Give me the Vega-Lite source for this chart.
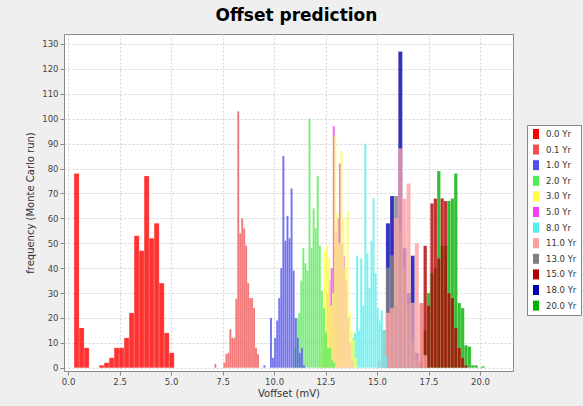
{
  "$schema": "https://vega.github.io/schema/vega-lite/v6.json",
  "width": 449,
  "height": 337,
  "autosize": {"type": "none"},
  "padding": {"left": 64, "top": 34, "right": 70, "bottom": 35},
  "background": "#efefef",
  "title": {"text": "Offset prediction", "font": "DejaVu Sans", "fontSize": 17, "fontWeight": "bold", "color": "#000000", "anchor": "middle", "frame": "group", "offset": 9, "dx": 8},
  "config": {
    "view": {"fill": "#ffffff", "stroke": "#888888", "strokeWidth": 1},
    "axis": {"grid": true, "gridColor": "#d4d4d4", "gridDash": [2, 2], "domain": false, "tickColor": "#888888", "tickSize": 4, "labelFont": "DejaVu Sans", "labelFontSize": 8.5, "labelColor": "#444444", "labelPadding": 2, "titleFont": "DejaVu Sans", "titleFontSize": 10, "titleFontWeight": "normal", "titleColor": "#333333"}
  },
  "data": {"values": [
    {"s": "20.0 Yr", "a": 17.090, "b": 17.255, "n": 5},
    {"s": "20.0 Yr", "a": 17.255, "b": 17.420, "n": 15},
    {"s": "20.0 Yr", "a": 17.420, "b": 17.585, "n": 30},
    {"s": "20.0 Yr", "a": 17.585, "b": 17.750, "n": 38},
    {"s": "20.0 Yr", "a": 17.750, "b": 17.915, "n": 40},
    {"s": "20.0 Yr", "a": 17.915, "b": 18.080, "n": 79},
    {"s": "20.0 Yr", "a": 18.080, "b": 18.245, "n": 49},
    {"s": "20.0 Yr", "a": 18.245, "b": 18.410, "n": 49},
    {"s": "20.0 Yr", "a": 18.410, "b": 18.575, "n": 67},
    {"s": "20.0 Yr", "a": 18.575, "b": 18.740, "n": 68},
    {"s": "20.0 Yr", "a": 18.740, "b": 18.905, "n": 78},
    {"s": "20.0 Yr", "a": 18.905, "b": 19.070, "n": 26},
    {"s": "20.0 Yr", "a": 19.070, "b": 19.235, "n": 24},
    {"s": "20.0 Yr", "a": 19.235, "b": 19.400, "n": 9},
    {"s": "20.0 Yr", "a": 19.400, "b": 19.565, "n": 8.5},
    {"s": "20.0 Yr", "a": 19.565, "b": 19.730, "n": 1},
    {"s": "20.0 Yr", "a": 19.730, "b": 19.895, "n": 1},
    {"s": "20.0 Yr", "a": 20.060, "b": 20.225, "n": 0.6},
    {"s": "18.0 Yr", "a": 15.23, "b": 15.43, "n": 8},
    {"s": "18.0 Yr", "a": 15.43, "b": 15.63, "n": 58},
    {"s": "18.0 Yr", "a": 15.63, "b": 15.83, "n": 69},
    {"s": "18.0 Yr", "a": 15.83, "b": 16.03, "n": 25},
    {"s": "18.0 Yr", "a": 16.03, "b": 16.23, "n": 127},
    {"s": "18.0 Yr", "a": 16.23, "b": 16.43, "n": 48},
    {"s": "18.0 Yr", "a": 16.43, "b": 16.63, "n": 30},
    {"s": "18.0 Yr", "a": 16.63, "b": 16.83, "n": 45},
    {"s": "18.0 Yr", "a": 16.83, "b": 17.03, "n": 6},
    {"s": "18.0 Yr", "a": 17.03, "b": 17.23, "n": 2},
    {"s": "15.0 Yr", "a": 17.090, "b": 17.255, "n": 26},
    {"s": "15.0 Yr", "a": 17.255, "b": 17.420, "n": 49},
    {"s": "15.0 Yr", "a": 17.420, "b": 17.585, "n": 25},
    {"s": "15.0 Yr", "a": 17.585, "b": 17.750, "n": 66},
    {"s": "15.0 Yr", "a": 17.750, "b": 17.915, "n": 68},
    {"s": "15.0 Yr", "a": 17.915, "b": 18.080, "n": 44},
    {"s": "15.0 Yr", "a": 18.080, "b": 18.245, "n": 68},
    {"s": "15.0 Yr", "a": 18.245, "b": 18.410, "n": 67},
    {"s": "15.0 Yr", "a": 18.410, "b": 18.575, "n": 30},
    {"s": "15.0 Yr", "a": 18.575, "b": 18.740, "n": 28},
    {"s": "15.0 Yr", "a": 18.740, "b": 18.905, "n": 16},
    {"s": "15.0 Yr", "a": 18.905, "b": 19.070, "n": 8},
    {"s": "15.0 Yr", "a": 19.070, "b": 19.235, "n": 4},
    {"s": "15.0 Yr", "a": 19.235, "b": 19.400, "n": 1},
    {"s": "13.0 Yr", "a": 15.23, "b": 15.43, "n": 15},
    {"s": "13.0 Yr", "a": 15.43, "b": 15.63, "n": 40},
    {"s": "13.0 Yr", "a": 15.63, "b": 15.83, "n": 45},
    {"s": "13.0 Yr", "a": 15.83, "b": 16.03, "n": 69},
    {"s": "13.0 Yr", "a": 16.03, "b": 16.23, "n": 55},
    {"s": "13.0 Yr", "a": 16.23, "b": 16.43, "n": 40},
    {"s": "13.0 Yr", "a": 16.43, "b": 16.63, "n": 25},
    {"s": "13.0 Yr", "a": 16.63, "b": 16.83, "n": 10},
    {"s": "13.0 Yr", "a": 16.83, "b": 17.03, "n": 3},
    {"s": "11.0 Yr", "a": 15.03, "b": 15.23, "n": 3},
    {"s": "11.0 Yr", "a": 15.23, "b": 15.43, "n": 14},
    {"s": "11.0 Yr", "a": 15.43, "b": 15.63, "n": 22},
    {"s": "11.0 Yr", "a": 15.63, "b": 15.83, "n": 24},
    {"s": "11.0 Yr", "a": 15.83, "b": 16.03, "n": 60},
    {"s": "11.0 Yr", "a": 16.03, "b": 16.23, "n": 88},
    {"s": "11.0 Yr", "a": 16.23, "b": 16.43, "n": 68},
    {"s": "11.0 Yr", "a": 16.43, "b": 16.63, "n": 74},
    {"s": "11.0 Yr", "a": 16.63, "b": 16.83, "n": 26},
    {"s": "11.0 Yr", "a": 16.83, "b": 17.03, "n": 50},
    {"s": "11.0 Yr", "a": 17.03, "b": 17.23, "n": 26},
    {"s": "11.0 Yr", "a": 17.23, "b": 17.43, "n": 5},
    {"s": "8.0 Yr", "a": 13.68, "b": 13.78, "n": 5},
    {"s": "8.0 Yr", "a": 13.78, "b": 13.88, "n": 12},
    {"s": "8.0 Yr", "a": 13.88, "b": 13.98, "n": 14},
    {"s": "8.0 Yr", "a": 13.98, "b": 14.08, "n": 45},
    {"s": "8.0 Yr", "a": 14.08, "b": 14.18, "n": 15},
    {"s": "8.0 Yr", "a": 14.18, "b": 14.28, "n": 44},
    {"s": "8.0 Yr", "a": 14.28, "b": 14.38, "n": 25},
    {"s": "8.0 Yr", "a": 14.38, "b": 14.48, "n": 90},
    {"s": "8.0 Yr", "a": 14.48, "b": 14.58, "n": 46},
    {"s": "8.0 Yr", "a": 14.58, "b": 14.68, "n": 32},
    {"s": "8.0 Yr", "a": 14.68, "b": 14.78, "n": 51},
    {"s": "8.0 Yr", "a": 14.78, "b": 14.88, "n": 68},
    {"s": "8.0 Yr", "a": 14.88, "b": 14.98, "n": 38},
    {"s": "8.0 Yr", "a": 14.98, "b": 15.08, "n": 24},
    {"s": "8.0 Yr", "a": 15.08, "b": 15.18, "n": 19},
    {"s": "8.0 Yr", "a": 15.18, "b": 15.28, "n": 23},
    {"s": "8.0 Yr", "a": 15.28, "b": 15.38, "n": 15},
    {"s": "8.0 Yr", "a": 15.38, "b": 15.48, "n": 5},
    {"s": "5.0 Yr", "a": 12.35, "b": 12.45, "n": 5},
    {"s": "5.0 Yr", "a": 12.45, "b": 12.55, "n": 15},
    {"s": "5.0 Yr", "a": 12.55, "b": 12.65, "n": 30},
    {"s": "5.0 Yr", "a": 12.65, "b": 12.75, "n": 35},
    {"s": "5.0 Yr", "a": 12.75, "b": 12.85, "n": 40},
    {"s": "5.0 Yr", "a": 12.85, "b": 12.95, "n": 97},
    {"s": "5.0 Yr", "a": 12.95, "b": 13.05, "n": 55},
    {"s": "5.0 Yr", "a": 13.05, "b": 13.15, "n": 60},
    {"s": "5.0 Yr", "a": 13.15, "b": 13.25, "n": 82},
    {"s": "5.0 Yr", "a": 13.25, "b": 13.35, "n": 50},
    {"s": "5.0 Yr", "a": 13.35, "b": 13.45, "n": 45},
    {"s": "5.0 Yr", "a": 13.45, "b": 13.55, "n": 35},
    {"s": "5.0 Yr", "a": 13.55, "b": 13.65, "n": 20},
    {"s": "5.0 Yr", "a": 13.65, "b": 13.75, "n": 10},
    {"s": "5.0 Yr", "a": 13.75, "b": 13.85, "n": 3},
    {"s": "3.0 Yr", "a": 12.22, "b": 12.32, "n": 4},
    {"s": "3.0 Yr", "a": 12.32, "b": 12.42, "n": 12},
    {"s": "3.0 Yr", "a": 12.42, "b": 12.52, "n": 47},
    {"s": "3.0 Yr", "a": 12.52, "b": 12.62, "n": 49},
    {"s": "3.0 Yr", "a": 12.62, "b": 12.72, "n": 44},
    {"s": "3.0 Yr", "a": 12.72, "b": 12.82, "n": 25},
    {"s": "3.0 Yr", "a": 12.82, "b": 12.92, "n": 30},
    {"s": "3.0 Yr", "a": 12.92, "b": 13.02, "n": 93},
    {"s": "3.0 Yr", "a": 13.02, "b": 13.12, "n": 62},
    {"s": "3.0 Yr", "a": 13.12, "b": 13.22, "n": 50},
    {"s": "3.0 Yr", "a": 13.22, "b": 13.32, "n": 87},
    {"s": "3.0 Yr", "a": 13.32, "b": 13.42, "n": 60},
    {"s": "3.0 Yr", "a": 13.42, "b": 13.52, "n": 40},
    {"s": "3.0 Yr", "a": 13.52, "b": 13.62, "n": 63},
    {"s": "3.0 Yr", "a": 13.62, "b": 13.72, "n": 22},
    {"s": "3.0 Yr", "a": 13.72, "b": 13.82, "n": 15},
    {"s": "3.0 Yr", "a": 13.82, "b": 13.92, "n": 11},
    {"s": "3.0 Yr", "a": 13.92, "b": 14.02, "n": 4},
    {"s": "2.0 Yr", "a": 10.97, "b": 11.07, "n": 8},
    {"s": "2.0 Yr", "a": 11.07, "b": 11.17, "n": 20},
    {"s": "2.0 Yr", "a": 11.17, "b": 11.27, "n": 22},
    {"s": "2.0 Yr", "a": 11.27, "b": 11.37, "n": 35},
    {"s": "2.0 Yr", "a": 11.37, "b": 11.47, "n": 48},
    {"s": "2.0 Yr", "a": 11.47, "b": 11.57, "n": 42},
    {"s": "2.0 Yr", "a": 11.57, "b": 11.67, "n": 39},
    {"s": "2.0 Yr", "a": 11.67, "b": 11.77, "n": 100},
    {"s": "2.0 Yr", "a": 11.77, "b": 11.87, "n": 48},
    {"s": "2.0 Yr", "a": 11.87, "b": 11.97, "n": 64},
    {"s": "2.0 Yr", "a": 11.97, "b": 12.07, "n": 56},
    {"s": "2.0 Yr", "a": 12.07, "b": 12.17, "n": 77},
    {"s": "2.0 Yr", "a": 12.17, "b": 12.27, "n": 49},
    {"s": "2.0 Yr", "a": 12.27, "b": 12.37, "n": 31},
    {"s": "2.0 Yr", "a": 12.37, "b": 12.47, "n": 24},
    {"s": "2.0 Yr", "a": 12.47, "b": 12.57, "n": 14},
    {"s": "2.0 Yr", "a": 12.57, "b": 12.67, "n": 8},
    {"s": "2.0 Yr", "a": 12.67, "b": 12.77, "n": 8},
    {"s": "2.0 Yr", "a": 12.77, "b": 12.87, "n": 3},
    {"s": "2.0 Yr", "a": 12.87, "b": 12.97, "n": 2},
    {"s": "1.0 Yr", "a": 9.48, "b": 9.58, "n": 1},
    {"s": "1.0 Yr", "a": 9.80, "b": 9.90, "n": 20},
    {"s": "1.0 Yr", "a": 9.90, "b": 10.00, "n": 4},
    {"s": "1.0 Yr", "a": 10.00, "b": 10.10, "n": 12},
    {"s": "1.0 Yr", "a": 10.10, "b": 10.20, "n": 19},
    {"s": "1.0 Yr", "a": 10.20, "b": 10.30, "n": 28},
    {"s": "1.0 Yr", "a": 10.30, "b": 10.40, "n": 40},
    {"s": "1.0 Yr", "a": 10.40, "b": 10.50, "n": 85},
    {"s": "1.0 Yr", "a": 10.50, "b": 10.60, "n": 51},
    {"s": "1.0 Yr", "a": 10.60, "b": 10.70, "n": 61},
    {"s": "1.0 Yr", "a": 10.70, "b": 10.80, "n": 52},
    {"s": "1.0 Yr", "a": 10.80, "b": 10.90, "n": 72},
    {"s": "1.0 Yr", "a": 10.90, "b": 11.00, "n": 39},
    {"s": "1.0 Yr", "a": 11.00, "b": 11.10, "n": 20},
    {"s": "1.0 Yr", "a": 11.10, "b": 11.20, "n": 12},
    {"s": "1.0 Yr", "a": 11.20, "b": 11.30, "n": 6},
    {"s": "1.0 Yr", "a": 11.30, "b": 11.40, "n": 8},
    {"s": "1.0 Yr", "a": 11.40, "b": 11.50, "n": 1},
    {"s": "0.1 Yr", "a": 7.100, "b": 7.196, "n": 1.5},
    {"s": "0.1 Yr", "a": 7.540, "b": 7.636, "n": 2},
    {"s": "0.1 Yr", "a": 7.636, "b": 7.732, "n": 5.5},
    {"s": "0.1 Yr", "a": 7.732, "b": 7.828, "n": 6},
    {"s": "0.1 Yr", "a": 7.828, "b": 7.924, "n": 15.5},
    {"s": "0.1 Yr", "a": 7.924, "b": 8.020, "n": 12},
    {"s": "0.1 Yr", "a": 8.020, "b": 8.116, "n": 12},
    {"s": "0.1 Yr", "a": 8.116, "b": 8.212, "n": 27.7},
    {"s": "0.1 Yr", "a": 8.212, "b": 8.308, "n": 103},
    {"s": "0.1 Yr", "a": 8.308, "b": 8.404, "n": 54},
    {"s": "0.1 Yr", "a": 8.404, "b": 8.500, "n": 60},
    {"s": "0.1 Yr", "a": 8.500, "b": 8.596, "n": 56},
    {"s": "0.1 Yr", "a": 8.596, "b": 8.692, "n": 49},
    {"s": "0.1 Yr", "a": 8.692, "b": 8.788, "n": 34},
    {"s": "0.1 Yr", "a": 8.788, "b": 8.884, "n": 28},
    {"s": "0.1 Yr", "a": 8.884, "b": 8.980, "n": 28},
    {"s": "0.1 Yr", "a": 8.980, "b": 9.076, "n": 24},
    {"s": "0.1 Yr", "a": 9.076, "b": 9.172, "n": 8},
    {"s": "0.1 Yr", "a": 9.172, "b": 9.268, "n": 5.5},
    {"s": "0.0 Yr", "a": 0.290, "b": 0.533, "n": 78},
    {"s": "0.0 Yr", "a": 0.533, "b": 0.776, "n": 16},
    {"s": "0.0 Yr", "a": 0.776, "b": 1.019, "n": 8},
    {"s": "0.0 Yr", "a": 1.505, "b": 1.748, "n": 1},
    {"s": "0.0 Yr", "a": 1.748, "b": 1.991, "n": 2},
    {"s": "0.0 Yr", "a": 1.991, "b": 2.234, "n": 4},
    {"s": "0.0 Yr", "a": 2.234, "b": 2.477, "n": 8},
    {"s": "0.0 Yr", "a": 2.477, "b": 2.720, "n": 8},
    {"s": "0.0 Yr", "a": 2.720, "b": 2.963, "n": 12},
    {"s": "0.0 Yr", "a": 2.963, "b": 3.206, "n": 22},
    {"s": "0.0 Yr", "a": 3.206, "b": 3.449, "n": 53},
    {"s": "0.0 Yr", "a": 3.449, "b": 3.692, "n": 47},
    {"s": "0.0 Yr", "a": 3.692, "b": 3.935, "n": 77},
    {"s": "0.0 Yr", "a": 3.935, "b": 4.178, "n": 52},
    {"s": "0.0 Yr", "a": 4.178, "b": 4.421, "n": 58},
    {"s": "0.0 Yr", "a": 4.421, "b": 4.664, "n": 34},
    {"s": "0.0 Yr", "a": 4.664, "b": 4.907, "n": 14},
    {"s": "0.0 Yr", "a": 4.907, "b": 5.150, "n": 6}
  ]},
  "mark": {"type": "bar", "opacity": 0.8, "clip": true, "stroke": "#ffffff", "strokeWidth": 0.4, "strokeOpacity": 0.4},
  "encoding": {
    "x": {"field": "a", "type": "quantitative", "scale": {"domain": [-0.2, 21.6], "nice": false, "zero": false},
      "axis": {"values": [0, 2.5, 5, 7.5, 10, 12.5, 15, 17.5, 20], "format": ".1f", "title": "Voffset (mV)", "titlePadding": 3}},
    "x2": {"field": "b"},
    "y": {"field": "n", "type": "quantitative", "stack": null, "scale": {"domain": [-1.3, 134], "nice": false, "zero": false},
      "axis": {"values": [0, 10, 20, 30, 40, 50, 60, 70, 80, 90, 100, 110, 120, 130], "title": "frequency (Monte Carlo run)", "titlePadding": 6}},
    "y2": {"datum": 0},
    "color": {"field": "s", "type": "nominal",
      "scale": {"domain": ["0.0 Yr", "0.1 Yr", "1.0 Yr", "2.0 Yr", "3.0 Yr", "5.0 Yr", "8.0 Yr", "11.0 Yr", "13.0 Yr", "15.0 Yr", "18.0 Yr", "20.0 Yr"],
        "range": ["#ff0000", "#f05050", "#4d4df0", "#50ee50", "#ffff40", "#f040f0", "#50f0f0", "#ffa0a0", "#808080", "#b00000", "#0000b0", "#00b000"]},
      "legend": {"title": null, "orient": "none", "legendX": 463, "legendY": 91, "direction": "vertical",
        "symbolType": "M-0.6,-1L0.6,-1L0.6,1L-0.6,1Z", "symbolSize": 100, "symbolStrokeWidth": 0, "symbolOpacity": 1,
        "labelFont": "DejaVu Sans", "labelFontSize": 8.5, "labelColor": "#333333", "labelOffset": 5, "rowPadding": 5.6,
        "padding": 4, "strokeColor": "#888888", "fillColor": "#ffffff"}}
  }
}
